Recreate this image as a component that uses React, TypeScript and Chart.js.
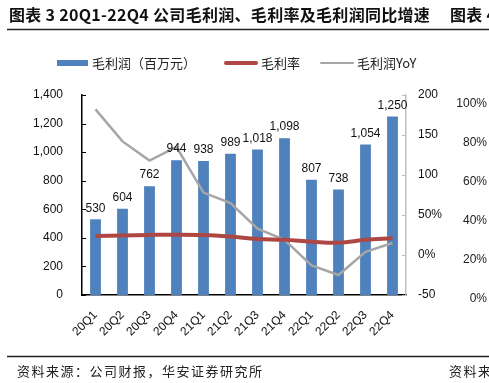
import React, { useEffect, useRef } from "react";
import { Chart, registerables } from "chart.js";

Chart.register(...registerables);

const categories = ["20Q1", "20Q2", "20Q3", "20Q4", "21Q1", "21Q2", "21Q3", "21Q4", "22Q1", "22Q2", "22Q3", "22Q4"];
const grossProfit = [530, 604, 762, 944, 938, 989, 1018, 1098, 807, 738, 1054, 1250];
const grossMargin = [23.8, 24.4, 25.0, 25.4, 25.0, 23.0, 20.0, 19.0, 16.7, 15.4, 19.0, 21.0];
const profitYoY = [182, 142, 118, 135, 78, 65, 33, 19, -13, -25, 4, 15];
const leftTicks = [0, 200, 400, 600, 800, 1000, 1200, 1400];
const rightTickLabels: Record<string, string> = { "200": "200", "150": "150", "100": "100", "50": "50%", "0": "0%", "-50": "-50" };
const neighbourTicks = ["100%", "80%", "60%", "40%", "20%", "0%"];

const titleText = "图表 3 20Q1-22Q4 公司毛利润、毛利率及毛利润同比增速";
const neighbourTitle = "图表 4";
const sourceText = "资料来源：公司财报，华安证券研究所";
const neighbourSource = "资料来";
const legendLabels = ["毛利润（百万元）", "毛利率", "毛利润YoY"];

const BLUE = "#4F81BD";
const RED = "#AE4644";
const GRAY = "#A6A6A6";
const NUM_FONT = "'Liberation Sans', Arial, 'Noto Sans CJK SC', sans-serif";
const CJK_FONT = "'Noto Sans CJK SC', 'Liberation Sans', sans-serif";

function fmt(v: number): string {
  return v.toLocaleString("en-US");
}

const decorPlugin = {
  id: "decor",
  afterDraw(chart: any) {
    const ctx = chart.ctx;
    const ca = chart.chartArea;
    const yS = chart.scales.y;
    const y1S = chart.scales.y1;
    ctx.save();
    // title
    ctx.fillStyle = "#111";
    ctx.textBaseline = "middle";
    ctx.textAlign = "left";
    ctx.font = `bold 16px ${CJK_FONT}`;
    (ctx as any).letterSpacing = "0.3px";
    ctx.fillText(titleText, 9, 15);
    ctx.fillText(neighbourTitle, 450, 15);
    (ctx as any).letterSpacing = "0px";
    // top rule
    ctx.strokeStyle = "#222";
    ctx.lineWidth = 1.5;
    ctx.beginPath();
    ctx.moveTo(7, 29.5);
    ctx.lineTo(489, 29.5);
    ctx.stroke();
    // bottom rule
    ctx.beginPath();
    ctx.moveTo(7, 356.5);
    ctx.lineTo(489, 356.5);
    ctx.stroke();
    // source
    ctx.font = `13px ${CJK_FONT}`;
    ctx.fillStyle = "#222";
    (ctx as any).letterSpacing = "1.5px";
    ctx.fillText(sourceText, 17, 371);
    ctx.fillText(neighbourSource, 449, 371);
    (ctx as any).letterSpacing = "0px";

    // legend
    const ly = 63;
    ctx.fillStyle = BLUE;
    ctx.fillRect(57, ly - 3, 31, 6);
    ctx.lineCap = "round";
    ctx.strokeStyle = RED;
    ctx.lineWidth = 4;
    ctx.beginPath();
    ctx.moveTo(226, ly);
    ctx.lineTo(256, ly);
    ctx.stroke();
    ctx.strokeStyle = GRAY;
    ctx.lineWidth = 2;
    ctx.beginPath();
    ctx.moveTo(321, ly);
    ctx.lineTo(353, ly);
    ctx.stroke();
    ctx.lineCap = "butt";
    ctx.fillStyle = "#222";
    ctx.font = `13px ${CJK_FONT}`;
    ctx.fillText(legendLabels[0], 92, ly);
    ctx.fillText(legendLabels[1], 261, ly);
    ctx.fillText(legendLabels[2], 357, ly);

    // inner tick marks
    ctx.strokeStyle = "#000";
    ctx.lineWidth = 1;
    leftTicks.forEach((v) => {
      const y = Math.round(yS.getPixelForValue(v)) + 0.5;
      ctx.beginPath();
      ctx.moveTo(ca.left, y);
      ctx.lineTo(ca.left + 4, y);
      ctx.stroke();
    });
    ctx.strokeStyle = "#BFBFBF";
    [200, 150, 100, 50, 0, -50].forEach((v) => {
      const y = Math.round(y1S.getPixelForValue(v)) + 0.5;
      ctx.beginPath();
      ctx.moveTo(ca.right - 4, y);
      ctx.lineTo(ca.right, y);
      ctx.stroke();
    });

    // neighbour chart axis labels (cut off at right)
    ctx.fillStyle = "#222";
    ctx.font = `12px ${NUM_FONT}`;
    ctx.textAlign = "right";
    neighbourTicks.forEach((t, i) => {
      ctx.fillText(t, 487, 104 + i * 39);
    });
    ctx.restore();
  },
  afterDatasetsDraw(chart: any) {
    const ctx = chart.ctx;
    const meta = chart.getDatasetMeta(0);
    ctx.save();
    ctx.fillStyle = "#111";
    ctx.font = `12px ${NUM_FONT}`;
    ctx.textAlign = "center";
    ctx.textBaseline = "bottom";
    meta.data.forEach((el: any, i: number) => {
      ctx.fillText(fmt(grossProfit[i]), el.x, el.y - 5);
    });
    ctx.restore();
  },
};

export default function App() {
  const ref = useRef<HTMLCanvasElement | null>(null);
  useEffect(() => {
    if (!ref.current) return;
    const chart = new Chart(ref.current, {
      type: "bar",
      data: {
        labels: categories,
        datasets: [
          {
            type: "bar",
            label: legendLabels[0],
            data: grossProfit,
            backgroundColor: BLUE,
            yAxisID: "y",
            barPercentage: 0.8,
            categoryPercentage: 0.5,
            order: 2,
          },
          {
            type: "line",
            label: legendLabels[1],
            data: grossMargin,
            borderColor: RED,
            borderWidth: 4,
            tension: 0.4,
            pointRadius: 0,
            yAxisID: "y1",
            order: 0,
          },
          {
            type: "line",
            label: legendLabels[2],
            data: profitYoY,
            borderColor: GRAY,
            borderWidth: 2.5,
            tension: 0,
            pointRadius: 0,
            yAxisID: "y1",
            order: 1,
          },
        ] as any,
      },
      options: {
        responsive: false,
        animation: false,
        devicePixelRatio: 1,
        layout: { padding: { top: 95, left: 0, right: 0, bottom: 0 } },
        plugins: { legend: { display: false }, tooltip: { enabled: false }, title: { display: false } },
        scales: {
          x: {
            grid: { display: false, drawTicks: false },
            border: { display: true, color: "#000", width: 1.5 },
            ticks: { maxRotation: 45, minRotation: 45, padding: 13, color: "#111", font: { size: 12, family: NUM_FONT } },
            afterFit: (s: any) => {
              s.height = 88;
            },
          },
          y: {
            position: "left",
            min: 0,
            max: 1400,
            grid: { display: false, drawTicks: false },
            border: { display: true, color: "#000", width: 1.5 },
            ticks: {
              stepSize: 200,
              padding: 19,
              color: "#111",
              font: { size: 12, family: NUM_FONT },
              callback: (v: any) => fmt(Number(v)),
            },
            afterFit: (s: any) => {
              s.width = 82;
            },
          },
          y1: {
            position: "right",
            min: -50,
            max: 200,
            grid: { display: false, drawTicks: false },
            border: { display: true, color: "#BFBFBF", width: 1.5 },
            ticks: {
              stepSize: 50,
              padding: 12,
              color: "#111",
              font: { size: 12, family: NUM_FONT },
              callback: (v: any) => rightTickLabels[String(v)] ?? String(v),
            },
            afterFit: (s: any) => {
              s.width = 83;
            },
          },
        },
      } as any,
      plugins: [decorPlugin],
    });
    return () => chart.destroy();
  }, []);
  return (
    <div style={{ position: "fixed", left: 0, top: 0, width: 489, height: 383, background: "#fff" }}>
      <canvas ref={ref} width={489} height={383} style={{ width: 489, height: 383, display: "block" }} />
    </div>
  );
}
